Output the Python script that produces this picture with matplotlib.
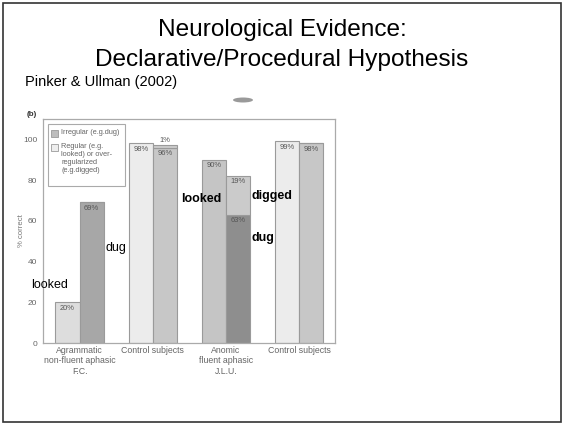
import matplotlib
matplotlib.use("Agg")
import matplotlib.pyplot as plt
from matplotlib.patches import Rectangle, Ellipse
from matplotlib.transforms import Bbox, TransformedBbox
import numpy as np

plt.rcParams['font.family'] = ['Liberation Sans', 'DejaVu Sans']

# data
groups = ["Agrammatic\nnon-fluent aphasic\nF.C.", "Control subjects",
          "Anomic\nfluent aphasic\nJ.L.U.", "Control subjects"]
regular = [20, 98, 90, 99]
irregular = [69, 96, 63, 98]
overreg = [0, 1, 19, 0]
yticks = [0, 20, 40, 60, 80, 100]
legend_labels = ["Irregular (e.g.dug)",
                 "Regular (e.g.\nlooked) or over-\nregularized\n(e.g.digged)"]

reg_colors = ["#dddddd", "#ececec", "#c5c5c5", "#ececec"]
irr_colors = ["#a7a7a7", "#c7c7c7", "#8e8e8e", "#c7c7c7"]
over_color = "#cbcbcb"
edge = "#9a9a9a"

W, H = 564, 424
fig = plt.figure(figsize=(W / 100, H / 100), dpi=100)

def px(x, y):
    return x / W, 1 - y / H

# slide frame
fig.patches.append(Rectangle((3 / W, 2 / H), 558 / W, 419 / H, transform=fig.transFigure,
                             fill=False, edgecolor="#333333", linewidth=1.2))

fig.text(*px(282, 30), "Neurological Evidence:", ha="center", va="center", fontsize=17.6)
fig.text(*px(282, 60), "Declarative/Procedural Hypothesis", ha="center", va="center", fontsize=17.6)
fig.text(*px(25, 82), "Pinker & Ullman (2002)", ha="left", va="center", fontsize=10.5)

# embedded panel
ax = fig.add_axes([43 / W, 1 - 343 / H, 292 / W, 224 / H])
x = np.arange(len(groups))
bw = 0.33
ax.bar(x - bw / 2, regular, bw, color=reg_colors, edgecolor=edge, linewidth=0.8)
ax.bar(x + bw / 2, irregular, bw, color=irr_colors, edgecolor=edge, linewidth=0.8)
ax.bar(x + bw / 2, overreg, bw, bottom=irregular, color=over_color, edgecolor=edge, linewidth=0.8)

lab = dict(fontsize=5.4, color="#555555", ha="center", va="top")
for i in range(len(groups)):
    ax.text(x[i] - bw / 2, regular[i] - 1.2, f"{regular[i]}%", **lab)
    ax.text(x[i] + bw / 2, irregular[i] - 1.2, f"{irregular[i]}%", **lab)
    if overreg[i] > 0:
        top = irregular[i] + overreg[i]
        if overreg[i] < 5:
            ax.text(x[i] + bw / 2, top + 0.8, f"{overreg[i]}%", fontsize=5.4, color="#555555",
                    ha="center", va="bottom")
        else:
            ax.text(x[i] + bw / 2, top - 1.2, f"{overreg[i]}%", **lab)

ax.set_xlim(-0.5, 3.49)
ax.set_ylim(0, 110)
ax.set_yticks(yticks)
ax.set_xticks(x)
ax.set_xticklabels(groups, fontsize=6.3, color="#666666", linespacing=1.2)
ax.tick_params(axis="y", labelsize=6, labelcolor="#666666", length=0, pad=4)
ax.tick_params(axis="x", length=0, pad=2)
for s in ax.spines.values():
    s.set_color("#aaaaaa")
    s.set_linewidth(0.9)
ax.set_ylabel("% correct", fontsize=5.6, color="#777777", labelpad=-1)

# the pasted picture is cut off through the third label line
clip = TransformedBbox(Bbox([[0, 1 - 374 / H], [1, 1]]), fig.transFigure)
for t in ax.get_xticklabels():
    t.set_clip_box(clip)
    t.set_clip_on(True)

# legend box drawn by hand (swatches sit at the top of multi-line labels)
fig.patches.append(Rectangle(px(48, 186), 77 / W, 62 / H, transform=fig.transFigure,
                             fill=True, facecolor="white", edgecolor="#aaaaaa", linewidth=0.8,
                             zorder=5))
sw_colors = ["#bdbdbd", "#eeeeee"]
sw_tops = [130, 144]
for c, top, txt in zip(sw_colors, sw_tops, legend_labels):
    fig.patches.append(Rectangle(px(51, top + 7), 7 / W, 7 / H, transform=fig.transFigure,
                                 facecolor=c, edgecolor=edge, linewidth=0.6, zorder=6))
    fig.text(*px(61, top - 1), txt, fontsize=5.3, color="#666666", va="top", ha="left",
             linespacing=1.2, zorder=7)

fig.text(*px(27, 114), "(b)", fontsize=5.8, fontweight="bold", color="#333333", va="center")
fig.patches.append(Ellipse(px(243, 100), 20 / W, 5 / H, transform=fig.transFigure,
                           facecolor="#9a9a9a", edgecolor="none"))

# overlaid word labels
fig.text(*px(31, 285), "looked", fontsize=9, va="center")
fig.text(*px(106, 248), "dug", fontsize=9, va="center")
fig.text(*px(181, 199), "looked", fontsize=9, fontweight="bold", va="center")
fig.text(*px(252, 196), "digged", fontsize=9, fontweight="bold", va="center")
fig.text(*px(252, 238), "dug", fontsize=9, fontweight="bold", va="center")

fig.savefig("out.png", dpi=100)
